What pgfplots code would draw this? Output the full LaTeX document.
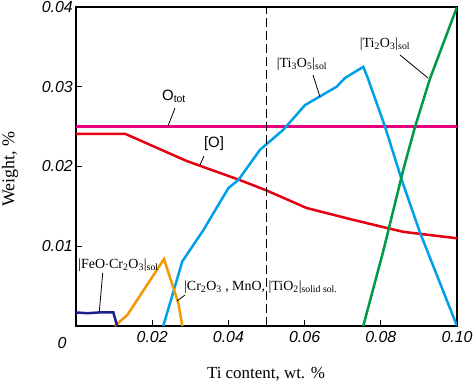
\documentclass[border=0pt]{standalone}
\usepackage{pgfplots}
\pgfplotsset{compat=1.18}
\usepackage{fontspec}
\setmainfont{Liberation Serif}
\setsansfont{Liberation Sans}
\definecolor{cmag}{RGB}{230,0,126}
\definecolor{cred}{RGB}{230,0,18}
\definecolor{cblue}{RGB}{0,160,233}
\definecolor{cgreen}{RGB}{0,153,68}
\definecolor{corange}{RGB}{243,152,0}
\definecolor{cnavy}{RGB}{29,32,136}
\newcommand{\lab}{\fontsize{14}{16}\selectfont}
\begin{document}
\begin{tikzpicture}[x=1bp,y=1bp]
\begin{axis}[
  at={(0,0)}, anchor=south west,
  width=381bp, height=319bp, scale only axis,
  xmin=0, xmax=0.1, ymin=0, ymax=0.04,
  xtick={0.02,0.04,0.06,0.08,0.1},
  ytick={0.01,0.02,0.03,0.04},
  scaled ticks=false,
  tick pos=left, tick align=inside,
  major tick length=6bp,
  tick style={line width=1bp, black},
  axis line style={line width=1.2bp},
  /pgf/number format/.cd, fixed, fixed zerofill, precision=2, assume math mode=true,
  /pgfplots/.cd,
  xticklabel style={font=\fontsize{16}{18}\selectfont\sffamily\itshape, inner sep=0pt, anchor=north, yshift=-5bp},
  yticklabel style={font=\fontsize{16}{18}\selectfont\sffamily\itshape, inner sep=0pt, anchor=east, xshift=-3bp},
  clip=true,
]
\addplot[cmag, line width=2.5bp] coordinates {(0,0.025) (0.1,0.025)};
\addplot[cred, line width=2.5bp] coordinates {(0,0.0241) (0.0129,0.0241) (0.029,0.0207) (0.043,0.0183) (0.050,0.0170) (0.0605,0.0148) (0.072,0.0134) (0.0815,0.0123) (0.086,0.0118) (0.1,0.0110)};
\addplot[cblue, line width=2.5bp] coordinates {(0.0229,0) (0.0279,0.0081) (0.0334,0.0120) (0.0400,0.0173) (0.0426,0.0183) (0.0483,0.0221) (0.0544,0.0246) (0.0601,0.0277) (0.0684,0.0300) (0.0706,0.0311) (0.0754,0.0325) (0.0765,0.0312) (0.0811,0.0250) (0.0855,0.0183) (0.0903,0.0117) (0.1,0)};
\addplot[cgreen, line width=2.5bp] coordinates {(0.0754,0) (0.0807,0.0095) (0.0859,0.0196) (0.089,0.025) (0.0929,0.031) (0.1,0.04)};
\addplot[corange, line width=2.5bp] coordinates {(0.0102,0) (0.0135,0.0014) (0.0231,0.0084) (0.0269,0.0028) (0.0279,0)};
\addplot[cnavy, line width=2.5bp] coordinates {(0,0.0017) (0.003,0.0016) (0.006,0.0017) (0.0098,0.0017) (0.0108,0)};
\addplot[black, line width=1bp, dash pattern=on 9bp off 4bp] coordinates {(0.05,0) (0.05,0.04)};
\end{axis}
% axis labels
\node[font=\fontsize{17}{19}\selectfont] at (190,-48) {Ti content, wt. \%};
\node[font=\fontsize{18}{20}\selectfont, rotate=90] at (-66,157) {Weight, \%};
\node[font=\fontsize{16}{18}\selectfont\sffamily\itshape] at (-14,-17) {0};
% curve labels
\node[font=\fontsize{15}{17}\selectfont\sffamily] at (98,230) {O\textsubscript{tot}};
\draw[line width=0.8bp] (99,218) -- (92,200);
\node[font=\fontsize{15}{17}\selectfont\sffamily] at (138,182) {[O]};
\draw[line width=0.8bp] (128,170) -- (124,161);
\node[font=\lab] at (226,262) {|Ti\textsubscript{3}O\textsubscript{5}|\textsubscript{sol}};
\draw[line width=0.8bp] (237,251) -- (244,229);
\node[font=\lab] at (309,282) {|Ti\textsubscript{2}O\textsubscript{3}|\textsubscript{sol}};
\draw[line width=0.8bp] (324,271) -- (352,248);
\node[font=\lab] at (42.5,61) {|FeO$\cdot$Cr\textsubscript{2}O\textsubscript{3}|\textsubscript{sol}};
\draw[line width=0.8bp] (26.7,53) -- (23.3,14.3);
\node[font=\lab, anchor=west, inner sep=0pt] at (108,39) {|Cr\textsubscript{2}O\textsubscript{3} , MnO, |TiO\textsubscript{2}|\textsubscript{solid sol.}};
\draw[line width=0.8bp] (109,31) -- (101,25);
\pgfresetboundingbox
\path (-76,-58) rectangle (399,326);
\end{tikzpicture}
\end{document}
